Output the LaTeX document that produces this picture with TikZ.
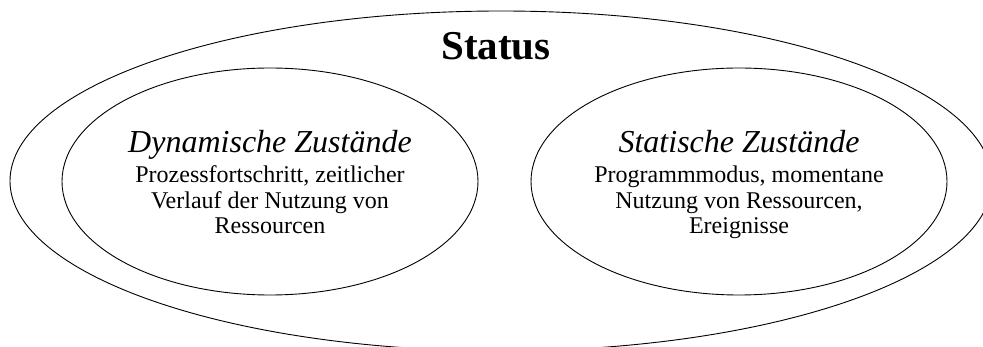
\documentclass[tikz,border=0pt]{standalone}
\usepackage{fontspec}
\setmainfont{Liberation Serif}
\usetikzlibrary{shapes.geometric}
\tikzset{
  ring/.style={draw=black, line width=0.9pt},
  inner/.style={ring, ellipse, minimum width=416pt, minimum height=227pt, inner sep=0pt, outer sep=0pt},
  ttl/.style={anchor=base, inner sep=0pt, font=\fontsize{32}{38}\selectfont\itshape},
  bod/.style={anchor=base, inner sep=0pt, font=\fontsize{24}{28}\selectfont},
  big/.style={anchor=base, inner sep=0pt, font=\fontsize{41}{48}\selectfont\bfseries}
}
\begin{document}
\begin{tikzpicture}[x=1pt,y=-1pt]
\useasboundingbox (0,0) rectangle (983,347);
\clip (0,0) rectangle (983,347);
\fill[white] (0,0) rectangle (983,347);
\node[ring, ellipse, minimum width=982pt, minimum height=340pt, inner sep=0pt, outer sep=0pt] (outer) at (501,181) {};
\node[inner] (dyn) at (270,181.5) {};
\node[inner] (stat) at (739,181.5) {};
\node[big] (status) at (496,60) {Status};
\node[ttl] (dynT) at (270,153) {Dynamische Zustände};
\node[bod] (dyn1) at (270,183) {Prozessfortschritt, zeitlicher};
\node[bod] (dyn2) at (270,209) {Verlauf der Nutzung von};
\node[bod] (dyn3) at (270,234) {Ressourcen};
\node[ttl] (statT) at (739,153) {Statische Zustände};
\node[bod] (stat1) at (739,183) {Programmmodus, momentane};
\node[bod] (stat2) at (739,209) {Nutzung von Ressourcen,};
\node[bod] (stat3) at (739,234) {Ereignisse};
\end{tikzpicture}
\end{document}
